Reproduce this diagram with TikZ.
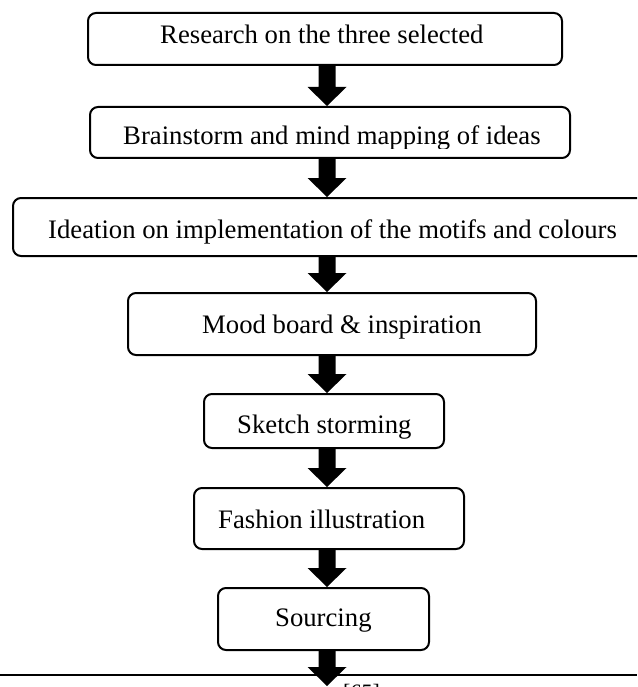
\documentclass[tikz,border=0pt]{standalone}
\usepackage{fontspec}
\setmainfont{Liberation Serif}
\usetikzlibrary{calc}
\newcommand\blockarrow[2]{%
  \fill let \p1=(#1), \p2=(#2) in
    (318.5pt,\y1) -- (335.5pt,\y1) -- (335.5pt,\y2+19pt) -- (346.5pt,\y2+19pt)
    -- (327pt,\y2) -- (307.5pt,\y2+19pt) -- (318.5pt,\y2+19pt) -- cycle;}
\begin{document}
\begin{tikzpicture}[x=1pt,y=-1pt,
  box/.style={draw, line width=2pt, rounded corners=8pt, inner sep=0pt},
  lbl/.style={anchor=base west, inner sep=0pt, font=\fontsize{26.7}{30}\selectfont},
  ]
\useasboundingbox (0,0) rectangle (637,687);
\clip (0,0) rectangle (637,687);
\fill[white] (0,0) rectangle (637,687);

\node[box, minimum width=474pt, minimum height=52pt] (b1) at (325,39) {};
\node[box, minimum width=480pt, minimum height=51pt] (b2) at (330,132.5) {};
\node[box, minimum width=647pt, minimum height=58pt] (b3) at (336.5,227) {};
\node[box, minimum width=408pt, minimum height=62pt] (b4) at (332,324) {};
\node[box, minimum width=240pt, minimum height=54pt] (b5) at (324,421) {};
\node[box, minimum width=270pt, minimum height=61pt] (b6) at (329,518.5) {};
\node[box, minimum width=211pt, minimum height=62pt] (b7) at (323.5,619) {};

\node[lbl] (t1) at (160,44) {Research on the three selected};
\begin{scope}
  \clip (90,107) rectangle (570,149);
  \node[lbl] (t2) at (123,145) {Brainstorm and mind mapping of ideas};
\end{scope}
\node[lbl] (t3) at (48,238) {Ideation on implementation of the motifs and colours};
\node[lbl] (t4) at (202,333) {Mood board \& inspiration};
\begin{scope}
  \clip (204,394) rectangle (444,438);
  \node[lbl] (t5) at (237,433) {Sketch storming};
\end{scope}
\node[lbl] (t6) at (218,528) {Fashion illustration};
\node[lbl] (t7) at (275,626) {Sourcing};

\draw[line width=1.5pt] (0,675) -- (637,675);
\coordinate (end) at (327,686);
\node[anchor=base west, inner sep=0pt, font=\fontsize{22}{24}\selectfont] (ref) at (343,699) {[65]};

\blockarrow{b1.south}{b2.north}
\blockarrow{b2.south}{b3.north}
\blockarrow{b3.south}{b4.north}
\blockarrow{b4.south}{b5.north}
\blockarrow{b5.south}{b6.north}
\blockarrow{b6.south}{b7.north}
\blockarrow{b7.south}{end}
\end{tikzpicture}
\end{document}
